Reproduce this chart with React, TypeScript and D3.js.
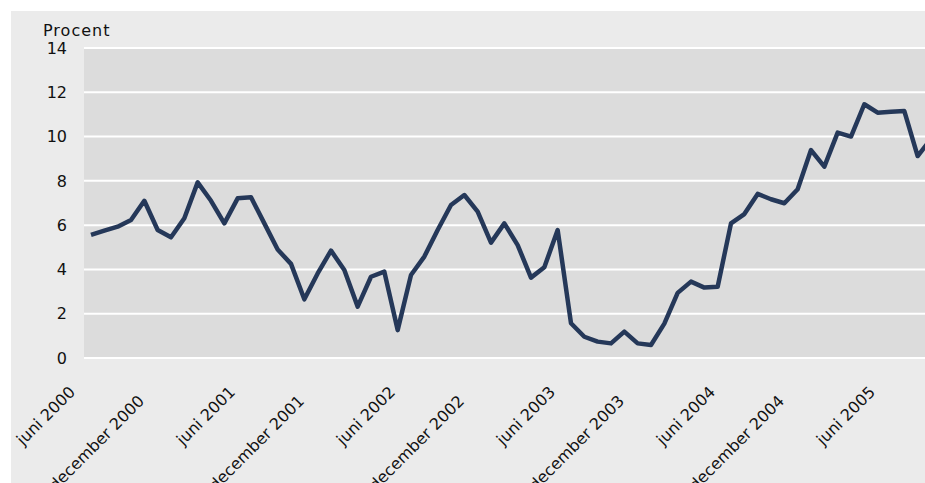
import * as d3 from 'd3';
import React, { useEffect, useRef } from 'react';

// monthly values, juni 2000 .. september 2005 (percent)
const values: number[] = [
  5.56, 5.75, 5.93, 6.23, 7.1, 5.78, 5.45, 6.31, 7.93, 7.1, 6.08, 7.21,
  7.26, 6.08, 4.9, 4.25, 2.65, 3.82, 4.85, 3.97, 2.32, 3.67, 3.9, 1.26,
  3.75, 4.58, 5.78, 6.91, 7.36, 6.61, 5.21, 6.08, 5.1, 3.63, 4.1, 5.78,
  1.57, 0.96, 0.74, 0.66, 1.19, 0.66, 0.59, 1.55, 2.94, 3.45, 3.18, 3.22,
  6.08, 6.5, 7.41, 7.17, 6.99, 7.62, 9.39, 8.64, 10.18, 10.0, 11.46, 11.08,
  11.12, 11.15, 9.12, 9.9,
];

const tickLabels: string[] = [
  'juni 2000', 'december 2000', 'juni 2001', 'december 2001', 'juni 2002',
  'december 2002', 'juni 2003', 'december 2003', 'juni 2004', 'december 2004',
  'juni 2005',
];
const tickIndex: number[] = [0, 6, 12, 18, 24, 30, 36, 42, 48, 54, 60];

const yTicks: number[] = [0, 2, 4, 6, 8, 10, 12, 14];

const W = 925;
const H = 483;
const FONT = '"DejaVu Sans", sans-serif';

const App: React.FC = () => {
  const svgRef = useRef<SVGSVGElement | null>(null);

  useEffect(() => {
    if (!svgRef.current) return;
    const svg = d3.select(svgRef.current);
    svg.selectAll('*').remove();

    const plot = { left: 84, right: 925, top: 48, bottom: 358 };

    const x = d3.scaleLinear().domain([0, 63]).range([91, 931]);
    const y = d3.scaleLinear().domain([0, 14]).range([plot.bottom, plot.top]);

    // outer background
    svg.append('rect')
      .attr('x', 11).attr('y', 11)
      .attr('width', W - 11).attr('height', H - 11)
      .attr('fill', '#ebebeb');

    // plot area
    svg.append('rect')
      .attr('x', plot.left).attr('y', plot.top)
      .attr('width', plot.right - plot.left).attr('height', plot.bottom - plot.top)
      .attr('fill', '#dcdcdc');

    // gridlines
    svg.append('g')
      .selectAll('line')
      .data(yTicks)
      .enter()
      .append('line')
      .attr('x1', plot.left).attr('x2', plot.right)
      .attr('y1', (d) => y(d)).attr('y2', (d) => y(d))
      .attr('stroke', '#ffffff')
      .attr('stroke-width', 2);

    // y labels
    svg.append('g')
      .selectAll('text')
      .data(yTicks)
      .enter()
      .append('text')
      .attr('x', 67)
      .attr('y', (d) => y(d))
      .attr('dy', '0.36em')
      .attr('text-anchor', 'end')
      .style('font-family', FONT)
      .style('font-size', '16px')
      .style('fill', '#111')
      .text((d) => d);

    svg.append('text')
      .attr('x', 43).attr('y', 36)
      .style('font-family', FONT)
      .style('font-size', '16px')
      .style('letter-spacing', '1px')
      .style('fill', '#111')
      .text('Procent');

    // x labels, rotated -45
    svg.append('g')
      .selectAll('text')
      .data(tickLabels)
      .enter()
      .append('text')
      .attr('transform', (d, i) => {
        const long = d.length > 10;
        const ex = x(tickIndex[i]) - (long ? 34 : 23);
        const ey = long ? 394 : 385;
        return `translate(${ex}, ${ey}) rotate(-45)`;
      })
      .attr('dy', '0.72em')
      .attr('text-anchor', 'end')
      .style('font-family', FONT)
      .style('font-size', '16px')
      .style('fill', '#111')
      .text((d) => d);

    // clip for the line
    svg.append('clipPath').attr('id', 'plotclip')
      .append('rect')
      .attr('x', plot.left).attr('y', 0)
      .attr('width', plot.right - plot.left).attr('height', H);

    const line = d3.line<number>()
      .x((d, i) => x(i))
      .y((d) => y(d));

    svg.append('path')
      .datum(values)
      .attr('clip-path', 'url(#plotclip)')
      .attr('d', line)
      .attr('fill', 'none')
      .attr('stroke', '#253859')
      .attr('stroke-width', 4.5)
      .attr('stroke-linejoin', 'round');
  }, []);

  return (
    <svg
      ref={svgRef}
      width={W}
      height={H}
      style={{ position: 'absolute', left: 0, top: 0, background: '#ffffff' }}
    />
  );
};

export default App;
